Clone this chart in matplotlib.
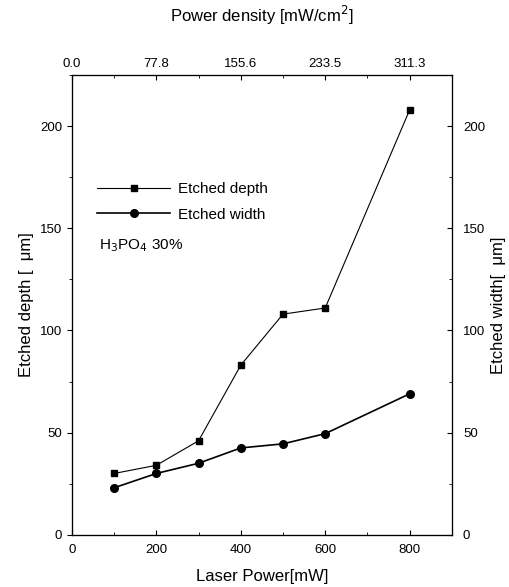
import numpy as np
import matplotlib
matplotlib.use('Agg')
import matplotlib.pyplot as plt
from matplotlib.ticker import MultipleLocator

plt.rcParams['font.family'] = ['Liberation Sans', 'DejaVu Sans']

# data
laser_power = [100, 200, 300, 400, 500, 600, 800]
etched_depth = [30, 34, 46, 83, 108, 111, 208]
etched_width = [23, 30, 35, 42.5, 44.5, 49.5, 69]

top_tick_pos = [0, 200, 400, 600, 800]
top_tick_labels = ['0.0', '77.8', '155.6', '233.5', '311.3']

fig = plt.figure(figsize=(5.10, 5.87), dpi=100)
ax = fig.add_axes([0.141, 0.089, 0.745, 0.783])

l1, = ax.plot(laser_power, etched_depth, color='black', lw=0.8,
              marker='s', ms=5, label='Etched depth')
ax.set_xlim(0, 900)
ax.set_ylim(0, 225)
ax.xaxis.set_major_locator(MultipleLocator(200))
ax.xaxis.set_minor_locator(MultipleLocator(100))
ax.yaxis.set_major_locator(MultipleLocator(50))
ax.yaxis.set_minor_locator(MultipleLocator(25))
ax.tick_params(axis='y', which='both', direction='out', labelsize=9.5)
ax.tick_params(axis='x', which='both', direction='in', labelsize=9.5, pad=7)
ax.set_xlabel('Laser Power[mW]', fontsize=12, labelpad=9)
ax.set_ylabel('Etched depth [  \u03bcm]', fontsize=12)

ax2 = ax.twinx()
l2, = ax2.plot(laser_power, etched_width, color='black', lw=1.2,
               marker='o', ms=5.5, label='Etched width')
ax2.set_ylim(0, 225)
ax2.yaxis.set_major_locator(MultipleLocator(50))
ax2.yaxis.set_minor_locator(MultipleLocator(25))
ax2.tick_params(axis='y', which='both', direction='in', labelsize=9.5, pad=8)
ax2.set_ylabel('Etched width[  \u03bcm]', fontsize=12)

ax3 = ax.twiny()
ax3.set_xlim(0, 900)
ax3.set_xticks(top_tick_pos)
ax3.set_xticklabels(top_tick_labels)
ax3.xaxis.set_minor_locator(MultipleLocator(100))
ax3.tick_params(axis='x', which='both', direction='in', labelsize=9.5)
ax3.set_xlabel('Power density [mW/cm$^2$]', fontsize=12, labelpad=26)

ax.legend([l1, l2], ['Etched depth', 'Etched width'], loc='upper left',
          bbox_to_anchor=(0.03, 0.797), frameon=False, fontsize=11,
          handlelength=4.8, labelspacing=0.75, handletextpad=0.5)
ax.text(0.07, 0.62, 'H$_3$PO$_4$ 30%', transform=ax.transAxes, fontsize=11)

fig.savefig('out.png', dpi=100)
